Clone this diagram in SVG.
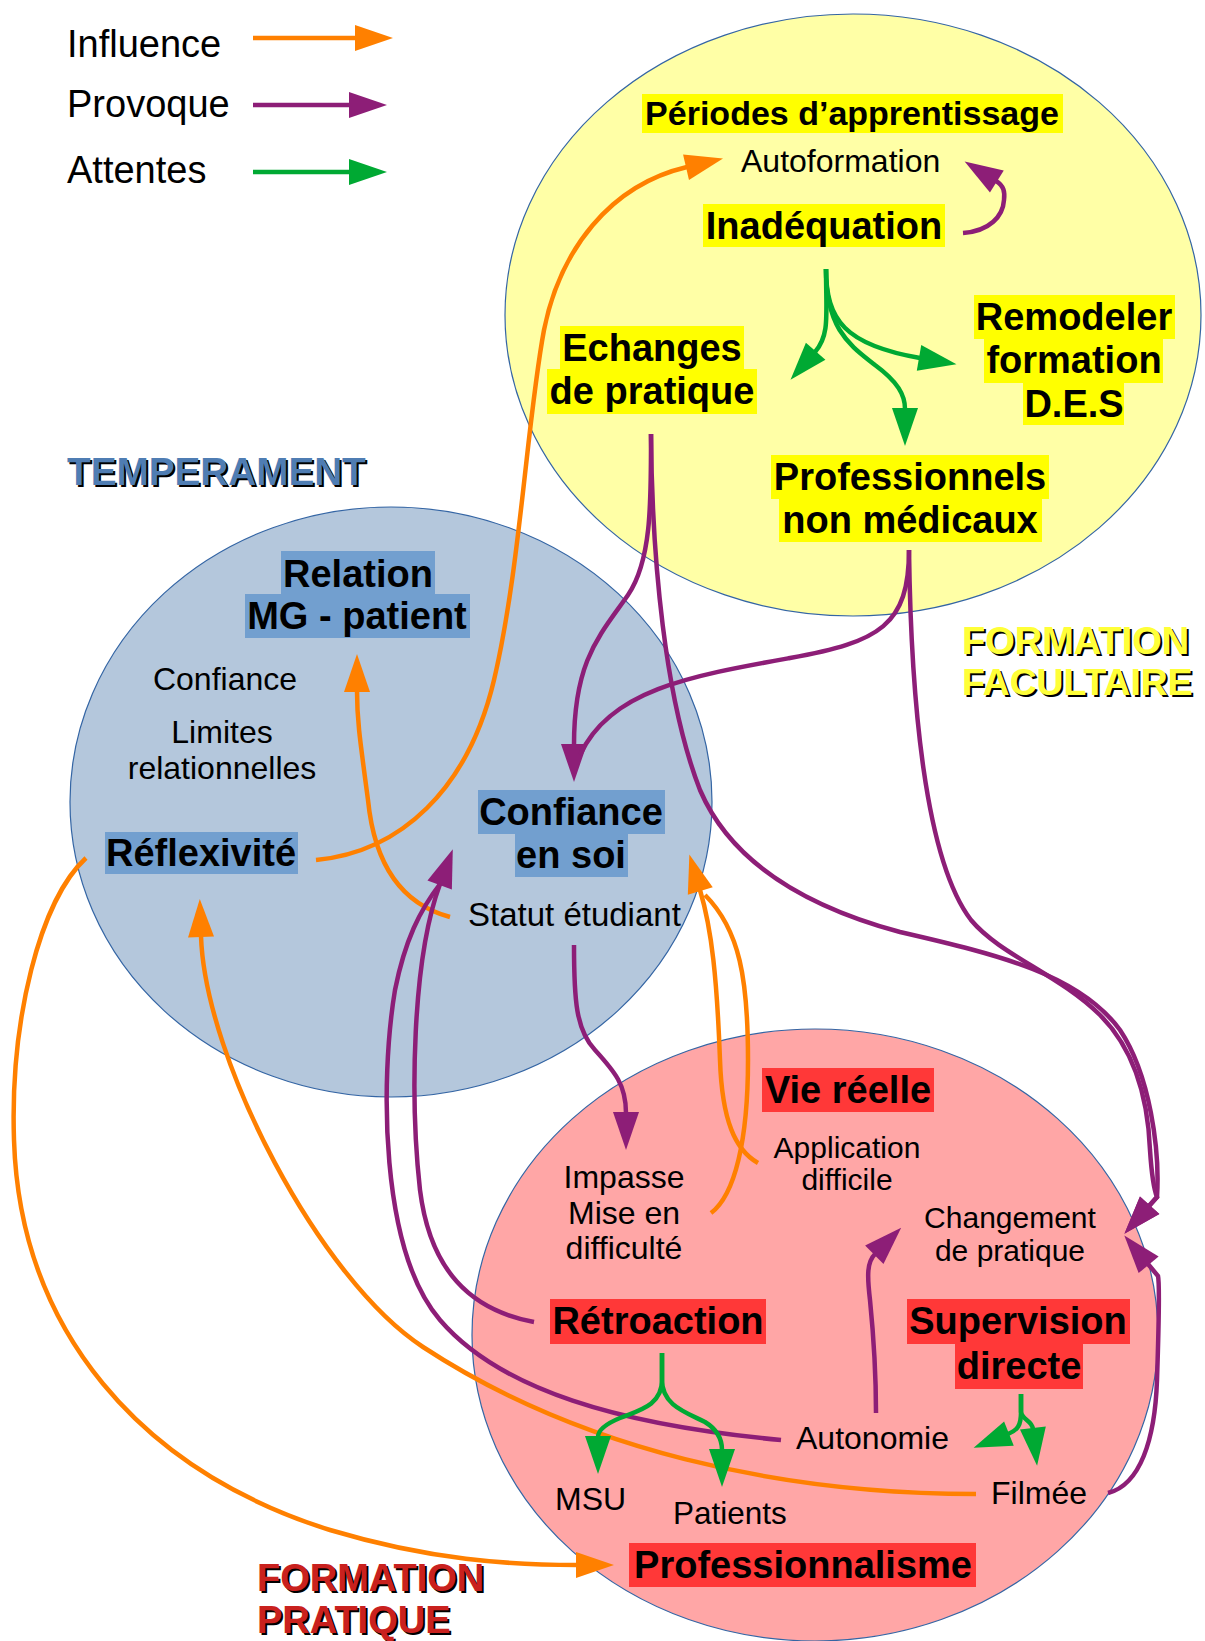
<svg xmlns="http://www.w3.org/2000/svg" width="1205" height="1641" viewBox="0 0 1205 1641">
<style>
text{font-family:"Liberation Sans",Arial,sans-serif;fill:#000}
.b{font-weight:bold;font-size:38px;text-anchor:middle}
.r{font-size:32px}
.rm{font-size:32px;text-anchor:middle}
.lg{font-size:38px}
.o,.p,.g{fill:none;stroke-width:4.5}
.o{stroke:#ff8000}
.p{stroke:#8d1e77}
.g{stroke:#00a933}
.hy{fill:#ffff00}
.hb{fill:#729fcf}
.hr{fill:#ff3838}
.reg{stroke:#3465a4;stroke-width:1.2}
.ttl{font-weight:bold;font-size:38px}
</style>
<defs>
<marker id="mo" markerUnits="userSpaceOnUse" markerWidth="40" markerHeight="28" refX="1" refY="13" orient="auto" overflow="visible"><path d="M0,0 L38,13 L0,26 Z" fill="#ff8000"/></marker>
<marker id="mp" markerUnits="userSpaceOnUse" markerWidth="40" markerHeight="28" refX="1" refY="13" orient="auto" overflow="visible"><path d="M0,0 L38,13 L0,26 Z" fill="#8d1e77"/></marker>
<marker id="mg" markerUnits="userSpaceOnUse" markerWidth="40" markerHeight="28" refX="1" refY="13" orient="auto" overflow="visible"><path d="M0,0 L38,13 L0,26 Z" fill="#00a933"/></marker>
</defs>
<rect width="1205" height="1641" fill="#ffffff"/>

<g id="region-formation-facultaire">
<ellipse class="reg" cx="853" cy="315" rx="348" ry="301" fill="#ffffa6"/>
</g>
<g id="region-temperament">
<ellipse class="reg" cx="391" cy="802" rx="321" ry="295" fill="#b4c7dc"/>
</g>
<g id="region-formation-pratique">
<ellipse class="reg" cx="815" cy="1335" rx="343" ry="306" fill="#ffa6a6"/>
</g>

<g id="legend">
<text class="lg" x="67" y="57">Influence</text>
<text class="lg" x="67" y="117">Provoque</text>
<text class="lg" x="67" y="183">Attentes</text>
<path class="o" d="M253,38 H356" marker-end="url(#mo)"/>
<path class="p" d="M253,105 H350" marker-end="url(#mp)"/>
<path class="g" d="M253,172 H350" marker-end="url(#mg)"/>
</g>

<g id="connectors">
<path class="o" d="M316,860 C400,852 468,790 494,680 C520,570 527,420 544,330 C560,250 610,185 687,167" marker-end="url(#mo)"/>
<path class="o" d="M450,917 C405,905 375,870 368,800 C360,740 357,720 357,691" marker-end="url(#mo)"/>
<path class="o" d="M976,1494 C780,1494 580,1450 423,1347 C320,1280 205,1060 201,936" marker-end="url(#mo)"/>
<path class="o" d="M86,858 C40,900 10,1020 14,1140 C20,1330 140,1470 330,1530 C430,1560 510,1565 577,1565" marker-end="url(#mo)"/>
<path class="o" d="M758,1163 C735,1150 722,1120 720,1060 C717,980 712,930 700,890" marker-end="url(#mo)"/>
<path class="o" d="M711,1213 C735,1195 748,1140 748,1060 C748,980 740,930 705,895"/>
<path class="p" d="M963,233 C990,231 1003,216 1004,200 C1005,192 1004,186 996,181" marker-end="url(#mp)"/>
<path class="p" d="M651,434 C651,500 652,560 628,595 C600,635 574,660 574,745" marker-end="url(#mp)"/>
<path class="p" d="M909,550 C909,625 880,642 790,658 C690,676 610,690 580,755"/>
<path class="p" d="M651,434 C652,560 665,700 700,790 C730,860 800,905 900,932 C1000,955 1080,975 1120,1030 C1150,1075 1160,1150 1157,1197 L1149,1206" marker-end="url(#mp)"/>
<path class="p" d="M909,550 C911,700 925,860 971,920 C1000,955 1060,975 1100,1015 C1135,1050 1148,1100 1150,1150 C1152,1180 1155,1192 1157,1197 L1149,1206" marker-end="url(#mp)"/>
<path class="p" d="M574,945 C574,1000 576,1030 595,1050 C615,1072 626,1085 626,1113" marker-end="url(#mp)"/>
<path class="p" d="M534,1322 C470,1310 430,1270 420,1190 C410,1100 412,960 440,884" marker-end="url(#mp)"/>
<path class="p" d="M781,1440 C620,1425 500,1390 440,1320 C380,1250 380,1080 395,990 C405,940 420,910 440,884"/>
<path class="p" d="M876,1413 C876,1370 873,1330 870,1300 C867,1275 867,1262 875,1254" marker-end="url(#mp)"/>
<path class="p" d="M1108,1493 C1140,1485 1155,1440 1157,1380 C1159,1320 1160,1285 1158,1276 L1148,1264" marker-end="url(#mp)"/>
<path class="g" d="M826,269 C826,315 830,335 815,352" marker-end="url(#mg)"/>
<path class="g" d="M826,269 C826,320 845,345 920,358" marker-end="url(#mg)"/>
<path class="g" d="M826,269 C826,330 850,345 875,365 C898,382 905,395 905,409" marker-end="url(#mg)"/>
<path class="g" d="M662,1353 L662,1380 C662,1405 640,1410 620,1418 C603,1425 598,1432 598,1437" marker-end="url(#mg)"/>
<path class="g" d="M662,1353 L662,1380 C662,1405 685,1412 705,1422 C718,1430 722,1440 722,1450" marker-end="url(#mg)"/>
<path class="g" d="M1021,1394 L1021,1412 C1021,1425 1018,1430 1008,1434" marker-end="url(#mg)"/>
<path class="g" d="M1021,1394 L1021,1412 C1022,1420 1032,1420 1033,1429" marker-end="url(#mg)"/>
</g>

<g id="label-formation-facultaire">
<text class="ttl" x="964" y="656" style="fill:#000">FORMATION</text>
<text class="ttl" x="964" y="697" style="fill:#000;font-size:37.3px">FACULTAIRE</text>
<text class="ttl" x="962" y="654" style="fill:#ffff38">FORMATION</text>
<text class="ttl" x="962" y="695" style="fill:#ffff38;font-size:37.3px">FACULTAIRE</text>
</g>
<g id="label-temperament">
<text class="ttl" x="69" y="487" style="fill:#000;font-size:38.7px">TEMPERAMENT</text>
<text class="ttl" x="67" y="485" style="fill:#4f7db3;font-size:38.7px">TEMPERAMENT</text>
</g>
<g id="label-formation-pratique">
<text class="ttl" x="259" y="1593" style="fill:#000">FORMATION</text>
<text class="ttl" x="259" y="1635" style="fill:#000">PRATIQUE</text>
<text class="ttl" x="257" y="1591" style="fill:#c9211e">FORMATION</text>
<text class="ttl" x="257" y="1633" style="fill:#c9211e">PRATIQUE</text>
</g>

<g id="periodes">
<rect class="hy" x="642" y="94" width="421" height="39"/>
<text class="b" x="852" y="125" style="font-size:34px">Périodes d’apprentissage</text>
</g>
<g id="autoformation"><text class="r" x="741" y="172">Autoformation</text></g>
<g id="inadequation">
<rect class="hy" x="703" y="204" width="242" height="43"/>
<text class="b" x="824" y="239">Inadéquation</text>
</g>
<g id="echanges">
<rect class="hy" x="560" y="326" width="184" height="44"/>
<rect class="hy" x="547" y="369" width="210" height="45"/>
<text class="b" x="652" y="361">Echanges</text>
<text class="b" x="652" y="404">de pratique</text>
</g>
<g id="remodeler">
<rect class="hy" x="974" y="295" width="201" height="44"/>
<rect class="hy" x="984" y="338" width="179" height="45"/>
<rect class="hy" x="1023" y="382" width="101" height="43"/>
<text class="b" x="1074" y="330">Remodeler</text>
<text class="b" x="1074" y="373">formation</text>
<text class="b" x="1074" y="417">D.E.S</text>
</g>
<g id="professionnels">
<rect class="hy" x="771" y="455" width="278" height="44"/>
<rect class="hy" x="779" y="498" width="263" height="44"/>
<text class="b" x="910" y="490">Professionnels</text>
<text class="b" x="910" y="533">non médicaux</text>
</g>

<g id="relation">
<rect class="hb" x="281" y="551" width="154" height="44"/>
<rect class="hb" x="245" y="594" width="225" height="44"/>
<text class="b" x="358" y="587">Relation</text>
<text class="b" x="357" y="629">MG - patient</text>
</g>
<g id="confiance"><text class="rm" x="225" y="690">Confiance</text></g>
<g id="limites">
<text class="rm" x="222" y="743">Limites</text>
<text class="rm" x="222" y="779">relationnelles</text>
</g>
<g id="reflexivite">
<rect class="hb" x="105" y="832" width="193" height="42"/>
<text class="b" x="201" y="866">Réflexivité</text>
</g>
<g id="confiance-en-soi">
<rect class="hb" x="478" y="790" width="187" height="44"/>
<rect class="hb" x="515" y="833" width="113" height="44"/>
<text class="b" x="571" y="825">Confiance</text>
<text class="b" x="571" y="868">en soi</text>
</g>
<g id="statut"><text class="r" x="468" y="926" style="font-size:33px">Statut étudiant</text></g>

<g id="vie-reelle">
<rect class="hr" x="762" y="1068" width="172" height="44"/>
<text class="b" x="848" y="1103">Vie réelle</text>
</g>
<g id="application">
<text class="rm" x="847" y="1158" style="font-size:30px">Application</text>
<text class="rm" x="847" y="1190" style="font-size:30px">difficile</text>
</g>
<g id="impasse">
<text class="rm" x="624" y="1188">Impasse</text>
<text class="rm" x="624" y="1224">Mise en</text>
<text class="rm" x="624" y="1259">difficulté</text>
</g>
<g id="changement">
<text class="rm" x="1010" y="1228" style="font-size:30px">Changement</text>
<text class="rm" x="1010" y="1261" style="font-size:30px">de pratique</text>
</g>
<g id="retroaction">
<rect class="hr" x="550" y="1299" width="216" height="45"/>
<text class="b" x="658" y="1334">Rétroaction</text>
</g>
<g id="supervision">
<rect class="hr" x="907" y="1299" width="223" height="45"/>
<rect class="hr" x="955" y="1344" width="128" height="45"/>
<text class="b" x="1018" y="1334">Supervision</text>
<text class="b" x="1019" y="1379">directe</text>
</g>
<g id="autonomie"><text class="r" x="796" y="1449">Autonomie</text></g>
<g id="msu"><text class="r" x="555" y="1510">MSU</text></g>
<g id="patients"><text class="r" x="673" y="1524" style="font-size:31.5px">Patients</text></g>
<g id="filmee"><text class="r" x="991" y="1504">Filmée</text></g>
<g id="professionnalisme">
<rect class="hr" x="629" y="1543" width="347" height="44"/>
<text class="b" x="803" y="1578">Professionnalisme</text>
</g>
</svg>
